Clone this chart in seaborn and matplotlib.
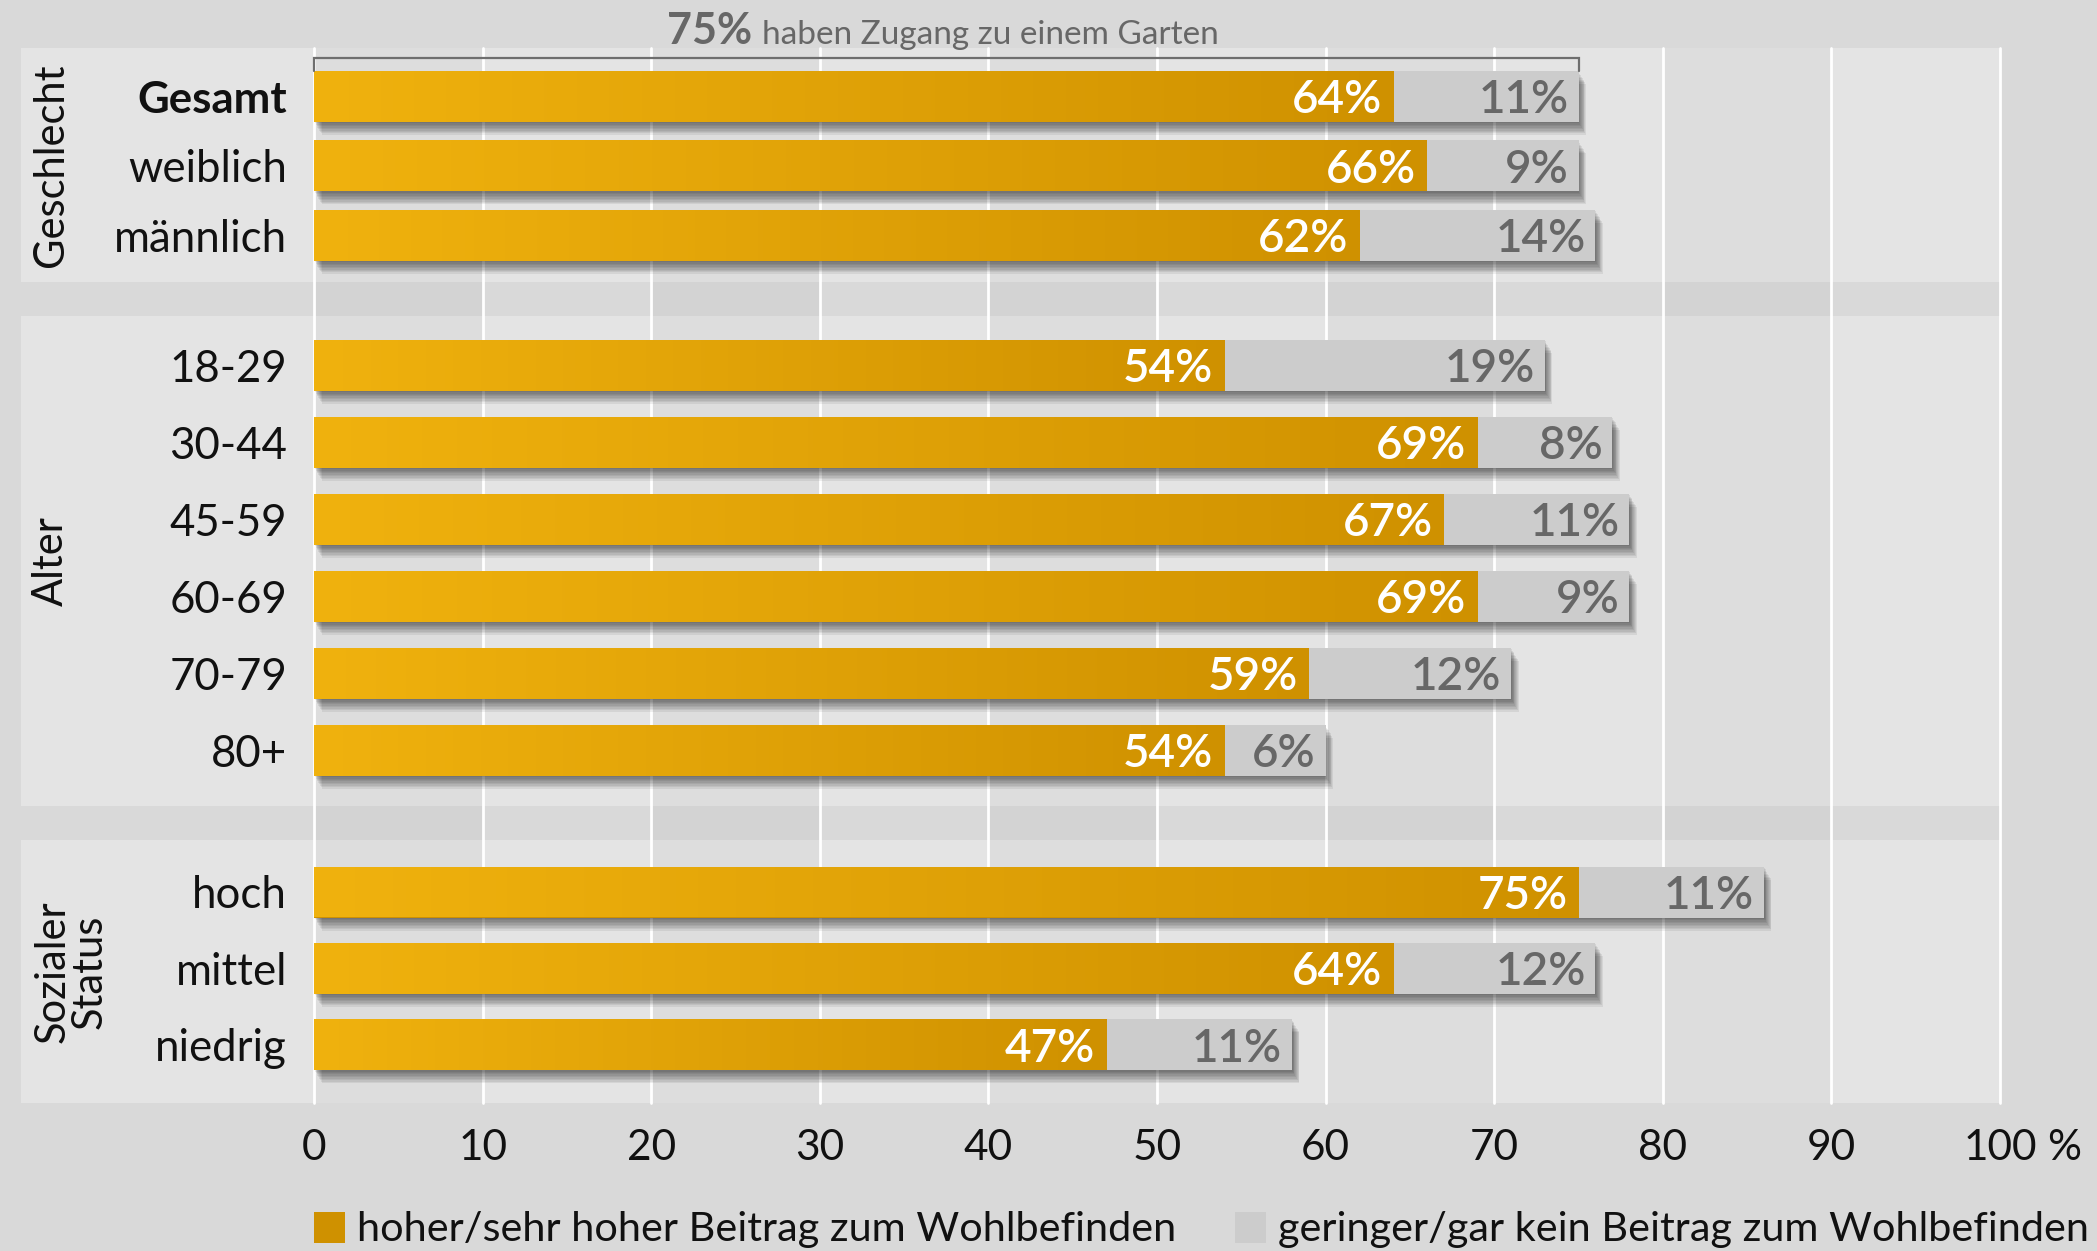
import numpy as np
import pandas as pd
import matplotlib
matplotlib.use("Agg")
import matplotlib.pyplot as plt
import matplotlib.patheffects as pe
from matplotlib.patches import Rectangle, Patch
from matplotlib.colors import to_rgb
import seaborn as sns

# ---------------- data ----------------
group_names = ["Geschlecht", "Alter", "Sozialer\nStatus"]

geschlecht_labels = ["Gesamt", "weiblich", "männlich"]
geschlecht_high = [64, 66, 62]
geschlecht_low = [11, 9, 14]

alter_labels = ["18-29", "30-44", "45-59", "60-69", "70-79", "80+"]
alter_high = [54, 69, 67, 69, 59, 54]
alter_low = [19, 8, 11, 9, 12, 6]

status_labels = ["hoch", "mittel", "niedrig"]
status_high = [75, 64, 47]
status_low = [11, 12, 11]

x_ticks = [0, 10, 20, 30, 40, 50, 60, 70, 80, 90, 100]
x_tick_labels = ["0", "10", "20", "30", "40", "50", "60", "70", "80", "90", "100"]
x_unit = "%"

legend_labels = ["hoher/sehr hoher Beitrag zum Wohlbefinden",
                 "geringer/gar kein Beitrag zum Wohlbefinden"]
garden_note = "haben Zugang zu einem Garten"

# ---------------- style ----------------
sns.set_style("white")
plt.rcParams["font.family"] = ["Lato", "DejaVu Sans"]

W, H, DPI = 2097, 1251, 100
BG = "#d9d9d9"
PANEL = "#e4e4e4"
GRAY = "#cccccc"
GRAY_TEXT = "#676767"
ORANGE = "#cf9100"
ORANGE_LEFT = "#f0b20e"
ORANGE_RIGHT = "#cf9100"
INK = "#111111"

X0, X1 = 314, 2000            # pixel extent of the 0..100 scale
PANEL_X = 21
panels_px = [(48, 282), (316, 806), (840, 1103)]
BAR_PX = 51

fig = plt.figure(figsize=(W / DPI, H / DPI), dpi=DPI, facecolor=BG)


def fy(px):
    return 1 - px / H


# panel backgrounds
for top, bottom in panels_px:
    fig.add_artist(Rectangle((PANEL_X / W, fy(bottom)), (X1 - PANEL_X) / W,
                             (bottom - top) / H, transform=fig.transFigure,
                             facecolor=PANEL, edgecolor="none", zorder=-5))

# background axis: column bands, white grid lines, x ticks
ax_bg = fig.add_axes([X0 / W, fy(1103), (X1 - X0) / W, (1103 - 48) / H])
ax_bg.set_zorder(0)
ax_bg.patch.set_visible(False)
ax_bg.set_xlim(0, 100)
ax_bg.set_ylim(0, 1)
for i in range(0, len(x_ticks) - 1, 2):
    ax_bg.axvspan(x_ticks[i], x_ticks[i + 1], color="black", alpha=0.027, lw=0)
for t in x_ticks:
    ax_bg.axvline(t, color="white", lw=2.0, clip_on=False)
ax_bg.set_xticks(x_ticks)
ax_bg.set_xticklabels(x_tick_labels)
ax_bg.set_yticks([])
ax_bg.tick_params(axis="x", length=0, pad=19, labelsize=30.5, labelcolor=INK)
for s in ax_bg.spines.values():
    s.set_visible(False)
ax_bg.annotate(x_unit, xy=(100, 0), xycoords=("data", "axes fraction"),
               xytext=(34, -19), textcoords="offset points",
               ha="left", va="top", fontsize=30.5, color=INK)

# horizontal gradient used to fill the orange bars
c0, c1 = np.array(to_rgb(ORANGE_LEFT)), np.array(to_rgb(ORANGE_RIGHT))
tt = np.linspace(0, 1, 256)[:, None]
GRADIENT = ((1 - tt) * c0 + tt * c1).reshape(1, 256, 3)

SHADOW = [pe.SimplePatchShadow(offset=(0.6 * k, -1.05 * k), shadow_rgbFace="black",
                               alpha=0.065) for k in range(1, 10)] + [pe.Normal()]


def draw_group(first_center, spacing, labels, high, low):
    n = len(labels)
    top = first_center - spacing / 2
    bottom = top + n * spacing
    ax = fig.add_axes([X0 / W, fy(bottom), (X1 - X0) / W, (bottom - top) / H])
    ax.set_zorder(1)
    ax.patch.set_visible(False)

    df = pd.DataFrame({"Gruppe": labels, "hoch": high, "gering": low})
    df["gesamt"] = df["hoch"] + df["gering"]
    width = BAR_PX / spacing

    sns.barplot(data=df, y="Gruppe", x="gesamt", orient="h", color=GRAY,
                saturation=1, width=width, errorbar=None, linewidth=0, ax=ax)
    n_gray = len(ax.patches)
    gray_bars = list(ax.patches)
    sns.barplot(data=df, y="Gruppe", x="hoch", orient="h", color=ORANGE,
                saturation=1, width=width, errorbar=None, linewidth=0, ax=ax)
    orange_bars = list(ax.patches[n_gray:])

    for p in gray_bars:
        p.set_clip_on(False)
        p.set_path_effects(SHADOW)
    for p in orange_bars:
        p.set_clip_on(False)
        x, y, wd, ht = p.get_x(), p.get_y(), p.get_width(), p.get_height()
        im = ax.imshow(GRADIENT, extent=(x, x + wd, y + ht, y), aspect="auto",
                       interpolation="bilinear", zorder=p.get_zorder() + 0.1)
        im.set_clip_path(p)

    for p, v in zip(orange_bars, df["hoch"]):
        yc = p.get_y() + p.get_height() / 2
        ax.annotate(f"{v}%", xy=(v, yc), xytext=(-8, 0), textcoords="offset points",
                    ha="right", va="center_baseline", color="white",
                    fontsize=33, fontweight="semibold", zorder=5)
    for p, v, tot in zip(orange_bars, df["gering"], df["gesamt"]):
        yc = p.get_y() + p.get_height() / 2
        ax.annotate(f"{v}%", xy=(tot, yc), xytext=(-7, 0), textcoords="offset points",
                    ha="right", va="center_baseline", color=GRAY_TEXT,
                    fontsize=33, fontweight="semibold", zorder=5)

    ax.set_xlim(0, 100)
    ax.set_ylim(n - 0.5, -0.5)
    ax.set_xticks([])
    ax.set_xlabel("")
    ax.set_ylabel("")
    ax.tick_params(axis="y", length=0, pad=19.5, labelsize=31.5, labelcolor=INK)
    for s in ax.spines.values():
        s.set_visible(False)
    return ax, top, df


ax1, top1, df1 = draw_group(96.3, 69.5, geschlecht_labels, geschlecht_high, geschlecht_low)
ax2, top2, df2 = draw_group(365.1, 77.0, alter_labels, alter_high, alter_low)
ax3, top3, df3 = draw_group(892.0, 76.3, status_labels, status_high, status_low)
ax1.get_yticklabels()[0].set_fontweight("bold")

# bracket over the total of the "Gesamt" row with its note
total = int(df1["gesamt"].iloc[0])


def y1(px):
    return -0.5 + (px - top1) / 69.5


ax1.plot([0, 0, total, total], [y1(70.5), y1(58), y1(58), y1(70.5)],
         color="#6e6e6e", lw=1.6, clip_on=False, solid_joinstyle="miter", zorder=4)
ax1.text(26.0, y1(44), f"{total}%", ha="right", va="baseline", fontsize=31,
         fontweight="bold", color=GRAY_TEXT, clip_on=False)
ax1.annotate(garden_note, xy=(26.0, y1(44)), xytext=(7, 0), textcoords="offset points",
             ha="left", va="baseline", fontsize=24, color=GRAY_TEXT, annotation_clip=False)

# rotated group titles
for name, (top, bottom), xpx in zip(group_names, panels_px, [51, 51, 71]):
    fig.text(xpx / W, fy((top + bottom) / 2), name, rotation=90, ha="center",
             va="center", multialignment="center", fontsize=30, color=INK,
             linespacing=0.98)

# legend
handles = [Patch(facecolor=ORANGE, edgecolor="none", label=legend_labels[0]),
           Patch(facecolor=GRAY, edgecolor="none", label=legend_labels[1])]
fig.legend(handles=handles, loc="center left", bbox_to_anchor=(X0 / W, fy(1230)),
           ncol=2, frameon=False, fontsize=29.8, handlelength=0.75, handleheight=0.78,
           handletextpad=0.3, columnspacing=1.4, borderpad=0, borderaxespad=0,
           labelcolor=INK)

fig.savefig("out.png", dpi=DPI, facecolor=BG)
